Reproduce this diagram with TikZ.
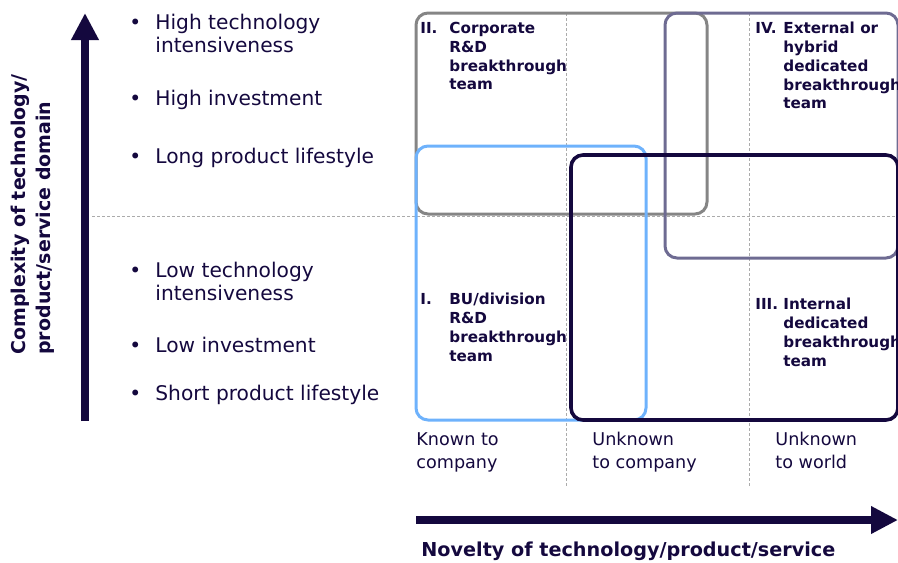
\documentclass[tikz,border=0pt]{standalone}
\usepackage{fontspec}
\setmainfont{DejaVu Sans}
\usepackage{tikz}
\usetikzlibrary{arrows.meta,positioning}
\usepackage{xcolor}
\definecolor{navy}{HTML}{14083E}
\definecolor{gridgray}{HTML}{ABABAB}
\definecolor{zonegray}{HTML}{858585}
\definecolor{zonepurple}{HTML}{6E6B92}
\definecolor{zoneblue}{HTML}{6EB2FC}

\begin{document}
\begin{tikzpicture}[x=0.5pt,y=-0.5pt,>={Triangle[length=13.5pt,width=13pt]}]
\tikzstyle{every node}=[text=navy,inner sep=0pt]
\tikzstyle{item}=[anchor=north west,align=left,font=\fontsize{10.1}{11.5}\selectfont]
\tikzstyle{novelty}=[anchor=north west,align=left,font=\fontsize{8.8}{11.5}\selectfont]
\tikzstyle{team}=[anchor=north west,align=left,font=\fontsize{7.6}{9.35}\selectfont\bfseries]
\tikzstyle{grid}=[draw=gridgray,dash pattern=on 1.5pt off 1pt,line width=0.5pt]
\tikzstyle{zone}=[rounded corners=6pt,line width=1.5pt]
\tikzstyle{axis}=[->,draw=navy,line width=4pt]
\useasboundingbox (0,0) rectangle (898,562);

% grid lines
\draw[grid] (92,216) -- (898,216);
\draw[grid] (566,13) -- (566,487);
\draw[grid] (749,13) -- (749,487);

% zones
\draw[zone,draw=zonegray]   (416,13)  rectangle (707,214);
\draw[zone,draw=zonepurple] (665,13)  rectangle (898,258);
\draw[zone,draw=zoneblue]   (416,146) rectangle (646,420);
\draw[zone,draw=navy,line width=1.8pt] (571,155) rectangle (898,420);

% axes
\coordinate (ybot) at (85,421);
\coordinate (ytop) at (85,13);
\coordinate (xleft) at (416,520);
\coordinate (xright) at (898,520);
\draw[axis] (ybot) -- (ytop);
\draw[axis] (xleft) -- (xright);

\node[rotate=90,anchor=north west,align=left,font=\fontsize{9.5}{12.5}\selectfont\bfseries] (ylab) at (11,355)
  {Complexity of technology/\\product/service domain};
\node[anchor=west,font=\fontsize{9.6}{11}\selectfont\bfseries] (xlab) at (421,551)
  {Novelty of technology/product/service};

% complexity items
\node[item] (hightech) at (155,14)  {\llap{\textbullet\hspace{7pt}}High technology\\intensiveness};
\node[item] (highinv)  at (155,90)  {\llap{\textbullet\hspace{7pt}}High investment};
\node[item] (longlife) at (155,148) {\llap{\textbullet\hspace{7pt}}Long product lifestyle};
\node[item] (lowtech)  at (155,262) {\llap{\textbullet\hspace{7pt}}Low technology\\intensiveness};
\node[item] (lowinv)   at (155,337) {\llap{\textbullet\hspace{7pt}}Low investment};
\node[item] (shortlife) at (155,385) {\llap{\textbullet\hspace{7pt}}Short product lifestyle};

% novelty levels
\node[novelty] (known)     at (416,432) {Known to\\company};
\node[novelty] (unkcomp)   at (592,432) {Unknown\\to company};
\node[novelty] (unkworld)  at (775,432) {Unknown\\to world};

% teams
\node[team] (num2)  at (420,22)  {II.};
\node[team] (team2) at (449,22)  {Corporate\\R\&D\\breakthrough\\team};
\node[team] (num4)  at (755,22)  {IV.};
\node[team] (team4) at (783,22)  {External or\\hybrid\\dedicated\\breakthrough\\team};
\node[team] (num1)  at (420,293) {I.};
\node[team] (team1) at (449,293) {BU/division\\R\&D\\breakthrough\\team};
\node[team] (num3)  at (755,298) {III.};
\node[team] (team3) at (783,298) {Internal\\dedicated\\breakthrough\\team};
\end{tikzpicture}
\end{document}
